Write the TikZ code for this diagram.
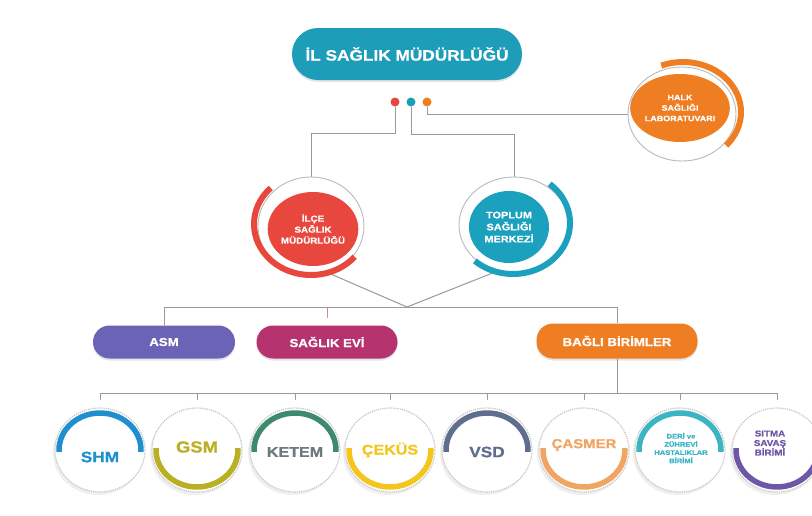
\documentclass[tikz,border=0pt]{standalone}
\usepackage{fontspec}
\setmainfont{Liberation Sans}
\newfontfamily\wf[FakeStretch=1.15,FakeBold=0.8]{Liberation Sans}
\usetikzlibrary{shapes.geometric,shadows,calc}
\pgfdeclarelayer{bg}
\pgfsetlayers{bg,main}
\definecolor{cteal}{HTML}{1E9DB8}
\definecolor{cred}{HTML}{E8473D}
\definecolor{ctsm}{HTML}{1BA0BE}
\definecolor{corange}{HTML}{EF7D22}
\definecolor{casm}{HTML}{6B63B5}
\definecolor{cevi}{HTML}{B5346F}
\definecolor{cline}{HTML}{9A9A9A}
\definecolor{cshm}{HTML}{1F8FD0}
\definecolor{cgsm}{HTML}{B9B023}
\definecolor{cketem}{HTML}{3E8A6C}
\definecolor{ctketem}{HTML}{6F7A80}
\definecolor{ccekus}{HTML}{F4C51A}
\definecolor{cvsd}{HTML}{5F6E8E}
\definecolor{ccasmer}{HTML}{F2A462}
\definecolor{cderi}{HTML}{3BB5C3}
\definecolor{csitma}{HTML}{6D58A8}
\newcommand\ringarc[6]{\draw[#1] ($(#2)+(#5:#3pt and #4pt)$) arc[start angle=#5,end angle=#6,x radius=#3pt,y radius=#4pt];}
\tikzset{
  conn/.style={draw=cline, line width=1pt},
  pillbox/.style={rectangle, rounded corners=16.5pt, inner sep=0pt, text=white,
    font=\wf\bfseries\fontsize{11.5}{13}\selectfont,
    drop shadow={opacity=0.2,shadow xshift=0pt,shadow yshift=-2pt}},
  ringbox/.style={ellipse, draw=gray!55, line width=0.9pt, inner sep=0pt},
  fillbox/.style={ellipse, inner sep=0pt, text=white, align=center,
    font=\wf\bfseries\fontsize{8.5}{11}\selectfont},
  unitbox/.style={ellipse, draw=gray!45, densely dotted, line width=1.2pt, fill=white,
    minimum width=90pt, minimum height=84pt, inner sep=0pt,
    drop shadow={opacity=0.12, shadow xshift=-2pt, shadow yshift=-3pt}},
  dotbox/.style={circle, inner sep=0pt, minimum size=9pt},
  bigarc/.style={line width=6pt},
  unitarc/.style={line width=5.5pt},
  unitlabel/.style={font=\wf\bfseries\fontsize{15}{17}\selectfont, align=center, inner sep=0pt},
}
\begin{document}
\begin{tikzpicture}[x=1pt,y=1pt]
\begin{pgfonlayer}{bg}
\fill[white] (0,0) rectangle (812,-515);
\end{pgfonlayer}
\useasboundingbox (0,0) rectangle (812,-515);

% top
\node[pillbox, fill=cteal, minimum width=230pt, minimum height=52pt, rounded corners=26pt,
  font=\wf\bfseries\fontsize{15}{17}\selectfont] (il) at (407,-54) {İL SAĞLIK MÜDÜRLÜĞÜ};
\node[dotbox, fill=cred] (dr) at (395,-102) {};
\node[dotbox, fill=cteal] (dt) at (411,-102) {};
\node[dotbox, fill=corange] (do) at (427,-102) {};

% Halk
\node[ringbox, minimum width=108pt, minimum height=94pt] (halk) at (682,-114) {};
\node[fillbox, fill=corange, minimum width=84pt, minimum height=68pt,
  font=\wf\bfseries\fontsize{7.8}{10.5}\selectfont] (halkin) at (680,-108) {HALK\\SAĞLIĞI\\LABORATUVARI};
\coordinate (halkc) at (683,-112);
\ringarc{bigarc,corange}{halkc}{58}{50}{112}{-42}

% ilce
\node[ringbox, minimum width=106pt, minimum height=98pt] (ilce) at (311,-226) {};
\node[fillbox, fill=cred, minimum width=88pt, minimum height=74pt] (ilcein) at (313,-229) {İLÇE\\SAĞLIK\\MÜDÜRLÜĞÜ};
\coordinate (ilcec) at (311,-224);
\ringarc{bigarc,cred}{ilcec}{57}{51}{135}{320}

% tsm
\node[ringbox, minimum width=110pt, minimum height=96pt] (tsm) at (514,-225) {};
\node[fillbox, fill=ctsm, minimum width=80pt, minimum height=72pt,
  font=\wf\bfseries\fontsize{9.5}{12}\selectfont] (tsmin) at (509,-227) {TOPLUM\\SAĞLIĞI\\MERKEZİ};
\coordinate (tsmc) at (513,-223);
\ringarc{bigarc,ctsm}{tsmc}{57}{51}{50}{-132}

% pills
\node[pillbox, fill=casm, minimum width=142pt, minimum height=33pt] (asm) at (164,-342) {ASM};
\node[pillbox, fill=cevi, minimum width=141pt, minimum height=33pt] (evi) at (327,-342) {SAĞLIK EVİ};
\node[pillbox, fill=corange, minimum width=161pt, minimum height=35pt] (bagli) at (617,-341) {BAĞLI BİRİMLER};

% units
\node[unitbox] (shm) at (100,-450) {};
\node[unitbox] (gsm) at (197,-450) {};
\node[unitbox] (ketem) at (295,-450) {};
\node[unitbox] (cekus) at (390,-450) {};
\node[unitbox] (vsd) at (487,-450) {};
\node[unitbox] (casmer) at (584,-450) {};
\node[unitbox] (deri) at (680,-450) {};
\node[unitbox] (sitma) at (777,-450) {};

\ringarc{unitarc,cshm}{shm}{41}{37}{-3}{183}
\ringarc{unitarc,cgsm}{gsm}{41}{37}{177}{363}
\ringarc{unitarc,cketem}{ketem}{41}{37}{-3}{183}
\ringarc{unitarc,ccekus}{cekus}{41}{37}{177}{363}
\ringarc{unitarc,cvsd}{vsd}{41}{37}{-3}{183}
\ringarc{unitarc,ccasmer}{casmer}{41}{37}{177}{363}
\ringarc{unitarc,cderi}{deri}{41}{37}{-3}{183}
\ringarc{unitarc,csitma}{sitma}{41}{37}{177}{363}

\node[unitlabel, text=cshm] (tshm) at (100,-457) {SHM};
\node[unitlabel, text=cgsm, font=\wf\bfseries\fontsize{16}{18}\selectfont] (tgsm) at (197,-447) {GSM};
\node[unitlabel, text=ctketem, font=\wf\bfseries\fontsize{14}{16}\selectfont] (tketem) at (295,-452) {KETEM};
\node[unitlabel, text=ccekus, font=\wf\bfseries\fontsize{14}{16}\selectfont] (tcekus) at (390,-450) {ÇEKÜS};
\node[unitlabel, text=cvsd] (tvsd) at (487,-452) {VSD};
\node[unitlabel, text=ccasmer, font=\wf\bfseries\fontsize{13}{15}\selectfont] (tcasmer) at (584,-445) {ÇASMER};
\node[unitlabel, text=cderi, font=\wf\bfseries\fontsize{6.6}{8.2}\selectfont] (tderi) at (681,-448) {DERİ ve\\ZÜHREVİ\\HASTALIKLAR\\BİRİMİ};
\node[unitlabel, text=csitma, font=\wf\bfseries\fontsize{8.5}{9.5}\selectfont] (tsitma) at (770,-443) {SITMA\\SAVAŞ\\BİRİMİ};

% connectors
\coordinate (b1) at (395,-133);
\coordinate (b2) at (411,-134);
\coordinate (J) at (407,-307);
\coordinate (bl) at (0,-393);
\begin{pgfonlayer}{bg}
\draw[conn] (dr) -- (b1) -| (ilce.north);
\draw[conn] (dt) -- (b2) -| (tsm.north);
\draw[conn] (do) |- (halk.west);
\draw[conn] (ilce.-70) -- (J) -- (tsm.-110);
\draw[conn] (asm.north) -- (asm.north |- J) -- (bagli.north |- J) -- (bagli.north);
\draw[conn, draw=cevi!60] (evi.north |- J) -- ++(0,-11);
\draw[conn] (bagli.south) -- (bagli.south |- bl);
\draw[conn] (shm.north |- bl) -- (sitma.north |- bl);
\foreach \n in {shm,gsm,ketem,cekus,vsd,casmer,deri,sitma}
  \draw[conn] (\n.north |- bl) -- ++(0,-7);
\end{pgfonlayer}
\end{tikzpicture}
\end{document}
